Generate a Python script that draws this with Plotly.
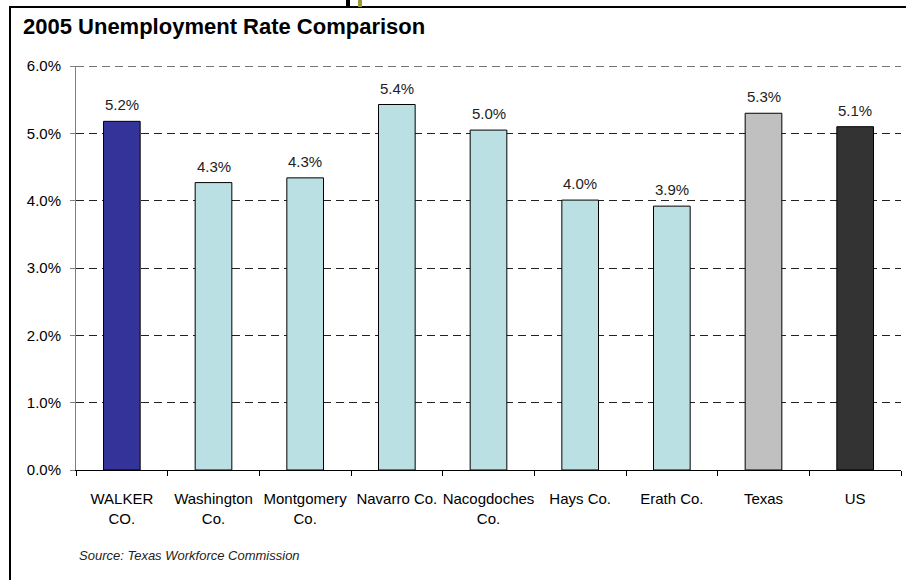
import plotly.graph_objects as go

# 2005 unemployment rates (%)
categories = ["WALKER<br>CO.", "Washington<br>Co.", "Montgomery<br>Co.", "Navarro Co.",
              "Nacogdoches<br>Co.", "Hays Co.", "Erath Co.", "Texas", "US"]
rates = [5.18, 4.27, 4.34, 5.43, 5.05, 4.01, 3.92, 5.30, 5.10]
bar_colors = ["#333399", "#BBE0E3", "#BBE0E3", "#BBE0E3", "#BBE0E3",
              "#BBE0E3", "#BBE0E3", "#C0C0C0", "#333333"]
y_ticks = [0, 1, 2, 3, 4, 5, 6]

W, H = 906, 580
ML, MR, MT, MB = 76, 5, 66, 110
PW, PH = W - ML - MR, H - MT - MB


def px_x(p):
    return (p - ML) / PW


def px_y(p):
    return (H - MB - p) / PH


FONT = "Liberation Sans, Arial, sans-serif"
GRID = dict(color="#222222", width=1, dash="8px,5px")

fig = go.Figure(go.Bar(
    x=categories, y=rates, width=0.4,
    marker=dict(color=bar_colors, line=dict(color="#000000", width=1)),
    hoverinfo="skip",
))

annotations = [
    dict(x=c, y=v, xref="x", yref="y", text=f"{v:.1f}%", showarrow=False,
         yanchor="bottom", yshift=6, font=dict(family=FONT, size=15, color="#222222"))
    for c, v in zip(categories, rates)
]
annotations.append(dict(
    x=px_x(21), y=px_y(27), xref="paper", yref="paper", xanchor="left", yanchor="middle",
    text="<b>2005 Unemployment Rate Comparison</b>", showarrow=False,
    font=dict(family=FONT, size=22, color="#000000")))
annotations.append(dict(
    x=px_x(77), y=px_y(555), xref="paper", yref="paper", xanchor="left", yanchor="middle",
    text="<i>Source: Texas Workforce Commission</i>", showarrow=False,
    font=dict(family=FONT, size=13, color="#222222")))

shapes = [
    # top gridline at the upper end of the value range
    dict(type="line", xref="paper", yref="y", x0=0, x1=1,
         y0=y_ticks[-1], y1=y_ticks[-1], line=GRID, layer="below"),
    # frame: left and top edges
    dict(type="line", xref="paper", yref="paper", x0=px_x(10), x1=px_x(10),
         y0=px_y(582), y1=px_y(7), line=dict(color="#000000", width=2)),
    dict(type="line", xref="paper", yref="paper", x0=px_x(9), x1=px_x(910),
         y0=px_y(7), y1=px_y(7), line=dict(color="#000000", width=2)),
    # small tabs on the top edge
    dict(type="rect", xref="paper", yref="paper", x0=px_x(346), x1=px_x(350),
         y0=px_y(7), y1=px_y(-2), fillcolor="#000000", line=dict(width=0)),
    dict(type="rect", xref="paper", yref="paper", x0=px_x(358), x1=px_x(362),
         y0=px_y(7), y1=px_y(-2), fillcolor="#999933", line=dict(width=0)),
]

fig.update_layout(
    width=W, height=H,
    margin=dict(l=ML, r=MR, t=MT, b=MB),
    paper_bgcolor="#FFFFFF", plot_bgcolor="#FFFFFF",
    font=dict(family=FONT, size=15, color="#000000"),
    showlegend=False,
    annotations=annotations,
    shapes=shapes,
    bargap=0.6,
)
fig.update_xaxes(
    showline=True, linecolor="#000000", linewidth=1,
    ticks="outside", ticklen=5, tickcolor="#000000", tickson="boundaries",
    tickangle=0, ticklabelstandoff=15,
    showgrid=False, tickfont=dict(family=FONT, size=15, color="#000000"),
)
fig.update_yaxes(
    range=[0, 6.002], tickvals=y_ticks, ticktext=[f"{t:.1f}%" for t in y_ticks],
    showline=True, linecolor="#808080", linewidth=1,
    ticks="outside", ticklen=5, tickcolor="#808080", ticklabelstandoff=6,
    showgrid=True, gridcolor=GRID["color"], gridwidth=1, griddash=GRID["dash"],
    zeroline=False, tickfont=dict(family=FONT, size=15, color="#000000"),
)

fig.write_html("out.html")
